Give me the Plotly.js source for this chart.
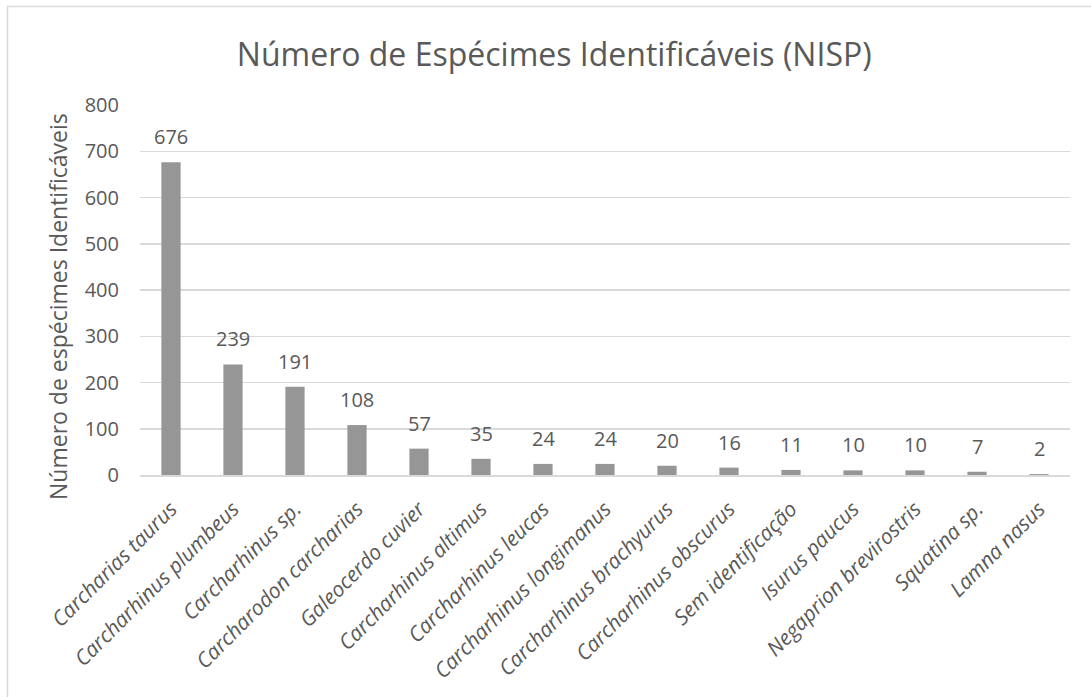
<!DOCTYPE html>
<html><head><meta charset="utf-8">
<script src="https://cdn.plot.ly/plotly-3.0.1.min.js"></script>
<style>html,body{margin:0;padding:0;background:#fff;}#chart{width:1091px;height:697px;}</style>
</head><body><div id="chart"></div>
<script>
const categories = ["Carcharias taurus","Carcharhinus plumbeus","Carcharhinus sp.","Carcharodon carcharias","Galeocerdo cuvier","Carcharhinus altimus","Carcharhinus leucas","Carcharhinus longimanus","Carcharhinus brachyurus","Carcharhinus obscurus","Sem identificação","Isurus paucus","Negaprion brevirostris","Squatina sp.","Lamna nasus"];
const values = [676,239,191,108,57,35,24,24,20,16,11,10,10,7,2];
const yTicks = [0,100,200,300,400,500,600,700,800];
const chartTitle = "Número de Espécimes Identificáveis (NISP)";
const yTitle = "Número de espécimes Identificáveis";

const txt = '#595959';
const fam = 'Open Sans, sans-serif';
const trace = {
  type: 'bar', x: categories, y: values,
  marker: {color: '#969696'},
  hoverinfo: 'x+y'
};
const labels = categories.map((c, i) => ({
  x: c, y: values[i], xref: 'x', yref: 'y', text: String(values[i]),
  showarrow: false, yanchor: 'bottom', yshift: 10,
  font: {family: fam, size: 20, color: txt}
}));
labels.push({
  text: yTitle, xref: 'paper', yref: 'paper', x: (58-140)/930, y: (475-307)/370,
  xanchor: 'center', yanchor: 'middle', textangle: -90, showarrow: false,
  font: {family: fam, size: 23, color: txt}
});
const layout = {
  width: 1091, height: 697,
  margin: {l: 140, r: 21, t: 105, b: 222},
  paper_bgcolor: '#fff', plot_bgcolor: '#fff',
  bargap: 0.69,
  showlegend: false,
  title: {text: chartTitle, x: 0.508, xref: 'container', y: 0.921, yref: 'container', yanchor: 'middle', xanchor: 'center',
          font: {family: fam, size: 32, color: txt}},
  xaxis: {type: 'category', tickangle: -45, showline: true, linecolor: '#d9d9d9', linewidth: 1.5, ticks: '', automargin: false,
          tickfont: {family: fam, size: 21, color: txt, style: 'italic'}, ticklabelstandoff: 12},
  yaxis: {range: [0, 800], tickvals: yTicks, showgrid: true, gridcolor: '#d9d9d9', gridwidth: 1.5, zeroline: false, automargin: false,
          showline: false, ticks: '', tickfont: {family: fam, size: 20, color: txt}, ticklabelstandoff: 20},
  annotations: labels,
  shapes: [{type: 'rect', xref: 'paper', yref: 'paper', x0: (7.5-140)/930, x1: 2, y0: -2, y1: (475-6.5)/370,
            line: {color: '#d9d9d9', width: 1.5}, fillcolor: 'rgba(0,0,0,0)', layer: 'below'}]
};
Plotly.newPlot('chart', [trace], layout, {displayModeBar: false, staticPlot: true});
</script></body></html>
